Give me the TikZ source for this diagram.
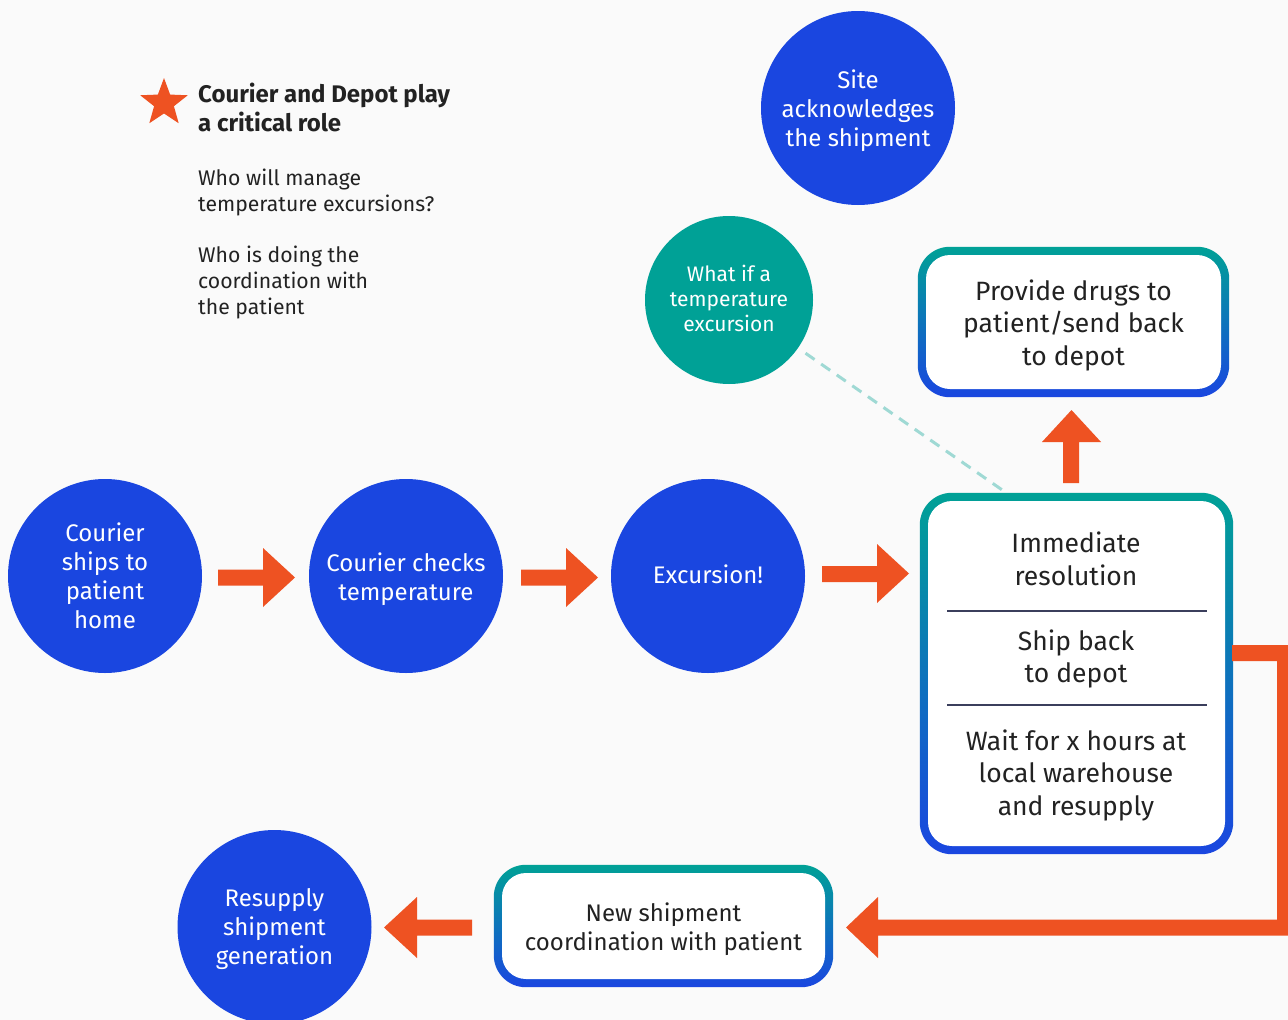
\documentclass[tikz,border=0pt]{standalone}
\usepackage{fontspec}
\setmainfont{Fira Sans}
\usetikzlibrary{shapes.geometric,backgrounds}
\definecolor{cblue}{HTML}{1A46E0}
\definecolor{cteal}{HTML}{00A196}
\definecolor{corange}{HTML}{EE5222}
\definecolor{ctext}{HTML}{222222}
\definecolor{cbg}{HTML}{FAFAFA}
\definecolor{cdash}{HTML}{9FD9D4}
\definecolor{cline}{HTML}{3B3F5C}
\tikzset{
  bluecirc/.style={circle, fill=cblue, text=white, inner sep=0pt, minimum size=194pt, align=center, font=\fontsize{24}{29}\selectfont},
  tealcirc/.style={circle, fill=cteal, text=white, inner sep=0pt, minimum size=168pt, align=center, font=\fontsize{21}{25}\selectfont},
  circlabel/.style={inner sep=0pt, align=center, text=white},
  whitebox/.style={rectangle, rounded corners=24pt, fill=white, inner sep=0pt, align=center, text=ctext},
  gborder/.style={top color=cteal, bottom color=cblue, rounded corners=32pt},
  immtext/.style={inner sep=0pt, align=center, text=ctext, font=\fontsize{26.5}{32.5}\selectfont},
  blockarrow/.style={fill=corange},
  sidetext/.style={anchor=north west, align=left, text=ctext, inner sep=0pt},
  divider/.style={draw=cline, line width=1.3pt},
}
\begin{document}
\begin{tikzpicture}[x=1pt,y=-1pt]
\useasboundingbox (0,0) rectangle (1288,1020);
\begin{scope}[on background layer]
  \fill[cbg] (0,0) rectangle (1288,1020);
\end{scope}

% sidebar
\node[star, star points=5, star point ratio=2.4, fill=corange, minimum size=50pt, inner sep=0pt] (star) at (164,103) {};
\node[sidetext, font=\fontsize{24}{29}\selectfont\bfseries] (title) at (198,83) {Courier and Depot play\\a critical role};
\node[sidetext, font=\fontsize{21.2}{26}\selectfont] (q1) at (198,169) {Who will manage\\temperature excursions?};
\node[sidetext, font=\fontsize{21.2}{26}\selectfont] (q2) at (198,246) {Who is doing the\\coordination with\\the patient};

% circles
\node[bluecirc] (ship) at (105,576) {};
\node[bluecirc] (check) at (406,576) {};
\node[bluecirc] (exc) at (708,576) {};
\node[bluecirc] (site) at (858,108) {};
\node[tealcirc] (whatif) at (729,300) {};
\node[bluecirc] (resup) at (274.5,927) {};
\node[circlabel, font=\fontsize{24}{29}\selectfont] (shipl) at (105,576) {Courier\\ships to\\patient\\home};
\node[circlabel, font=\fontsize{24}{29}\selectfont] (checkl) at (406,579) {Courier checks\\temperature};
\node[circlabel, font=\fontsize{24}{29}\selectfont] (excl) at (708,574) {Excursion!};
\node[circlabel, font=\fontsize{24}{29}\selectfont] (sitel) at (858,111) {Site\\acknowledges\\the shipment};
\node[circlabel, font=\fontsize{21}{25}\selectfont] (whatifl) at (729,298) {What if a\\temperature\\excursion};
\node[circlabel, font=\fontsize{24}{29}\selectfont] (resupl) at (274.5,929) {Resupply\\shipment\\generation};

% boxes
\node[whitebox, minimum width=295pt, minimum height=134pt] (prov) at (1073.5,322) {};
\node[whitebox, minimum width=297pt, minimum height=345pt] (imm) at (1076.5,673.5) {};
\node[whitebox, minimum width=323pt, minimum height=106pt] (newship) at (663.5,926) {};

\begin{scope}[on background layer]
  \shade[gborder] ([xshift=-8pt,yshift=-8pt]prov.south west) rectangle ([xshift=8pt,yshift=8pt]prov.north east);
  \shade[gborder] ([xshift=-8pt,yshift=-8pt]imm.south west) rectangle ([xshift=8pt,yshift=8pt]imm.north east);
  \shade[gborder] ([xshift=-8pt,yshift=-8pt]newship.south west) rectangle ([xshift=8pt,yshift=8pt]newship.north east);
\end{scope}

\node[immtext] (tp) at (1073.5,325) {Provide drugs to\\patient/send back\\to depot};
\node[immtext, font=\fontsize{24}{29}\selectfont] (tn) at (663.5,929) {New shipment\\coordination with patient};
\node[immtext] (t1) at (1076,559) {Immediate\\resolution};
\node[immtext] (t2) at (1076,659) {Ship back\\to depot};
\node[immtext] (t3) at (1076,775) {Wait for x hours at\\local warehouse\\and resupply};
\draw[divider] (947,611) -- (1207,611);
\draw[divider] (947,705) -- (1207,705);

% dashed link
\coordinate (dashend) at (1008,494);
\draw[cdash, line width=3pt, dash pattern=on 11pt off 8pt, shorten <=9pt] (whatif) -- (dashend);

% block arrows
\fill[blockarrow] (218,569.5) -- (263,569.5) -- (263,548) -- (295,577.5) -- (263,607) -- (263,585.5) -- (218,585.5) -- cycle;
\fill[blockarrow] (521,569.5) -- (566,569.5) -- (566,548) -- (598,577.5) -- (566,607) -- (566,585.5) -- (521,585.5) -- cycle;
\fill[blockarrow] (822,566) -- (877,566) -- (877,544) -- (909,573.5) -- (877,603) -- (877,582) -- (822,582) -- cycle;
\fill[blockarrow] (1063,483) -- (1063,442) -- (1042,442) -- (1071.5,410) -- (1101,442) -- (1079,442) -- (1079,483) -- cycle;
\fill[blockarrow] (472,919.5) -- (417,919.5) -- (417,897) -- (384,927.5) -- (417,958) -- (417,935.5) -- (472,935.5) -- cycle;
% L-shaped connector imm -> newship
\fill[blockarrow] (1232,645) -- (1293,645) -- (1293,935.5) -- (878,935.5) -- (878,958) -- (846,927.5) -- (878,897) -- (878,919.5) -- (1277,919.5) -- (1277,661) -- (1232,661) -- cycle;
\end{tikzpicture}
\end{document}
